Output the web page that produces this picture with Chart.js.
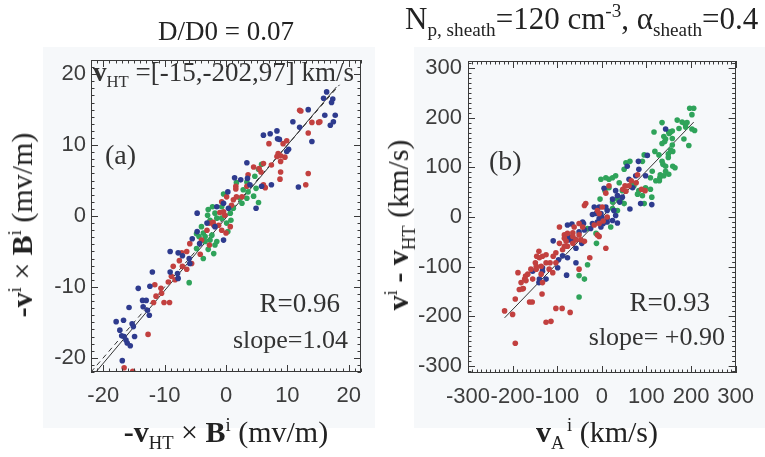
<!DOCTYPE html>
<html><head><meta charset="utf-8">
<script src="https://cdn.jsdelivr.net/npm/chart.js@4.4.1/dist/chart.umd.min.js"></script>
<style>
html,body{margin:0;padding:0;background:#fff;width:765px;height:457px;overflow:hidden;position:relative;}
.bg{position:absolute;background:#f6f8fa;}
canvas{position:absolute;top:0;}
.t{position:absolute;white-space:nowrap;font-family:'Liberation Serif','Times New Roman',serif;color:#333;line-height:1;}
.sub{font-size:62%;position:relative;top:0.38em;}
.sup{font-size:62%;position:relative;top:-0.6em;}
.rot{transform:translate(-50%,-50%) rotate(-90deg);}
</style></head><body>
<div class="bg" style="left:43px;top:47px;width:332px;height:381px"></div>
<div class="bg" style="left:414px;top:47px;width:351px;height:381px"></div>
<canvas id="ca" width="380" height="457" style="left:0px"></canvas>
<canvas id="cb" width="385" height="457" style="left:380px"></canvas>

<div class="t" style="left:226px;top:18px;font-size:27px;transform:translateX(-50%);color:#222">D/D0 = 0.07</div>
<div class="t" style="left:405px;top:3px;font-size:31px;color:#222">N<span class="sub">p, sheath</span>=120 cm<span class="sup">-3</span>, α<span class="sub">sheath</span>=0.4</div>

<div class="t rot" style="left:22px;top:225px;font-size:30px;color:#222"><b>-v</b><span class="sup">i</span> × <b>B</b><span class="sup">i</span> (mv/m)</div>
<div class="t rot" style="left:398px;top:225px;font-size:30px;color:#222"><b>v</b><span class="sup">i</span> <b>-</b> <b>v</b><span class="sub">HT</span> (km/s)</div>
<div class="t" style="left:226px;top:417px;font-size:30px;transform:translateX(-50%);color:#222"><b>-v</b><span class="sub">HT</span> × <b>B</b><span class="sup">i</span> (mv/m)</div>
<div class="t" style="left:597px;top:417px;font-size:30px;transform:translateX(-50%);color:#222"><b>v</b><span class="sub">A</span>&#8202;<span class="sup">i</span> (km/s)</div>

<div class="t" style="left:93px;top:59px;font-size:27px;"><b>v</b><span class="sub">HT</span> =[-15,-202,97] km/s</div>
<div class="t" style="left:105px;top:141px;font-size:28px;">(a)</div>
<div class="t" style="right:425px;top:290px;font-size:27px;">R=0.96</div>
<div class="t" style="right:417px;top:327px;font-size:26px;">slope=1.04</div>
<div class="t" style="left:489px;top:147px;font-size:28px;">(b)</div>
<div class="t" style="right:55px;top:289px;font-size:27px;">R=0.93</div>
<div class="t" style="right:40px;top:324px;font-size:26px;">slope= +0.90</div>

<script>
// ---------- DATA ----------
const panelA_blue = [[16.4,17.5],[15.9,16.6],[17.4,16.5],[17.2,16.0],[13.4,15.0],[17.8,14.2],[16.1,14.2],[17.5,13.3],[17.0,12.8],[10.9,13.3],[6.1,11.4],[7.2,11.6],[8.3,12.0],[8.4,10.9],[8.7,10.8],[10.2,9.4],[9.9,9.1],[12.0,12.5],[14.0,10.5],[11.8,4.1],[7.4,4.4],[5.8,4.2],[3.4,7.5],[1.4,5.4],[2.4,5.1],[3.5,5.3],[3.9,4.4],[4.9,1.1],[0.3,3.4],[-4.7,0.4],[-1.5,1.3],[-0.4,1.8],[0.4,1.1],[-3.1,-1.0],[-1.8,-1.5],[-0.4,-3.4],[-4.7,-2.2],[-5.5,-3.2],[-9.1,-5.0],[-7.8,-5.2],[-7.1,-5.6],[-6.0,-6.0],[-5.9,-6.7],[-4.3,-3.9],[-12.0,-7.9],[-9.1,-7.9],[-7.9,-8.1],[-7.8,-8.8],[-12.4,-9.9],[-14.3,-10.2],[-13.6,-11.9],[-13.0,-11.9],[-13.5,-12.8],[-12.8,-13.3],[-12.5,-14.0],[-15.8,-12.9],[-16.7,-14.7],[-17.9,-14.9],[-17.3,-16.1],[-15.3,-15.2],[-15.1,-15.6],[-16.6,-17.0],[-17.0,-16.9],[-16.3,-17.5],[-16.1,-17.9],[-15.6,-18.3],[-14.9,-17.0],[-16.9,-20.4]];
const panelA_red = [[12.0,14.9],[12.2,14.8],[15.3,13.3],[15.1,13.2],[14.0,13.2],[13.4,11.7],[9.9,10.6],[9.3,10.2],[7.0,10.2],[8.5,8.8],[8.3,8.4],[8.9,8.5],[9.6,8.3],[8.9,7.7],[7.4,7.2],[6.1,7.4],[5.4,6.7],[5.7,6.2],[8.9,6.2],[13.4,6.0],[13.0,4.4],[8.8,5.2],[6.1,4.4],[6.4,4.0],[1.6,4.2],[1.6,3.8],[0.1,2.7],[1.2,2.3],[1.7,2.7],[2.6,2.7],[0.9,1.5],[-0.4,0.6],[-0.2,0.1],[-1.0,0.5],[-2.7,-1.0],[-2.1,-0.9],[-2.0,-1.3],[-1.2,-1.3],[-0.7,-2.0],[0.0,-2.4],[0.7,-1.5],[-2.7,-4.1],[-4.0,-3.4],[-5.9,-3.9],[-6.4,-5.0],[-7.2,-5.2],[-7.6,-6.3],[-7.1,-7.1],[-6.4,-7.5],[-5.6,-6.7],[-8.6,-7.1],[-11.6,-9.7],[-10.6,-10.2],[-10.5,-10.9],[-9.4,-9.3],[-8.9,-8.5],[-8.3,-9.0],[-11.4,-11.3],[-10.1,-12.2],[-9.2,-12.2],[-11.8,-12.2],[-12.7,-16.7],[-16.6,-21.4],[-15.2,-21.9],[3.6,5.8],[4.5,6.9],[-0.7,2.0],[3.4,4.2],[-3.1,-2.0],[-4.2,-5.4]];
const panelA_green = [[5.8,7.3],[5.3,6.6],[4.7,5.6],[3.4,4.8],[1.7,4.7],[2.8,3.7],[3.6,3.4],[4.5,2.8],[3.4,2.5],[2.3,2.5],[-0.4,3.1],[-0.7,1.3],[-2.9,0.9],[-2.2,1.3],[-3.0,0.1],[-2.6,-0.6],[-1.5,-0.3],[-0.7,-0.3],[-1.8,0.4],[0.7,0.4],[-3.7,-2.4],[-4.8,-2.5],[-4.4,-2.9],[-3.4,-2.9],[-2.3,-2.7],[-3.4,-3.6],[-2.9,-4.7],[-2.0,-5.3],[-1.5,-3.6],[-3.7,-6.0],[-1.8,-4.1],[0.3,-2.2],[0.1,-1.0],[0.8,-0.6],[5.3,1.9],[4.9,3.9],[-6.0,-9.4],[-2.6,-3.4],[1.2,1.1],[2.6,1.8],[-4.8,-4.6],[-4.0,-1.5]];
const panelA_fit = [[-21.2,-22.0],[18.0,18.2]];
const panelA_ref = [[-22.0,-22.0],[18.5,18.5]];

const panelB_green = [[197,219],[206,219],[202,206],[186,188],[191,190],[180,191],[188,181],[169,195],[135,190],[154,171],[158,173],[150,171],[151,168],[139,162],[143,157],[141,152],[135,148],[158,158],[158,145],[154,135],[159,132],[149,127],[149,120],[117,171],[119,132],[128,125],[135,112],[137,106],[159,102],[164,99],[143,102],[143,92],[139,83],[130,79],[129,73],[121,73],[131,85],[150,86],[113,92],[109,79],[195,144],[184,157],[173,178],[202,177],[208,174],[95,125],[91,112],[109,56],[98,59],[83,53],[72,63],[69,67],[80,46],[91,43],[112,40],[95,27],[54,109],[63,112],[50,96],[31,83],[24,79],[39,69],[16,76],[9,79],[-2,76],[16,59],[7,53],[-4,36],[35,36],[24,30],[42,33],[50,27],[35,13],[30,12],[24,17],[20,-20],[-32,-23],[-13,-33],[-12,-53],[-32,-96],[-39,-125],[-51,-161],[46,53],[-51,-118]];
const panelB_blue = [[143,177],[82,112],[102,124],[83,96],[57,102],[76,83],[98,83],[61,76],[69,59],[112,25],[87,27],[63,16],[31,53],[35,43],[24,36],[40,30],[46,40],[27,13],[31,3],[12,13],[9,20],[5,58],[-6,20],[-2,7],[-21,5],[-6,-3],[-10,-10],[3,-13],[-2,-20],[12,-3],[12,-10],[24,-7],[35,-12],[-21,-13],[-25,-23],[-43,-10],[-41,-13],[-39,-26],[-51,-30],[-67,-14],[-77,-16],[-75,-39],[-73,-46],[-65,-49],[-60,-45],[-45,-53],[-58,-63],[-77,-82],[-88,-78],[-109,-48],[-133,-102],[-140,-125],[-133,-109],[-155,-109],[-99,-102],[-125,-125],[-79,-117],[-97,-86],[-58,-92],[-141,-132],[-13,7],[-17,20],[0,0]];
const panelB_red = [[80,85],[66,73],[77,69],[97,53],[89,56],[61,63],[52,63],[47,56],[54,52],[16,63],[9,48],[1,20],[-6,7],[-10,13],[12,0],[3,-8],[-6,-13],[-17,-16],[-36,27],[-39,23],[-43,-20],[-51,-13],[-62,-20],[-65,-32],[-65,-39],[-77,-33],[-84,-36],[-51,-36],[-58,-46],[-47,-46],[-39,-49],[-65,-53],[-77,-59],[-84,-59],[-88,-66],[-103,-72],[-109,-79],[-125,-76],[-133,-79],[-140,-82],[-146,-79],[-141,-69],[-149,-92],[-147,-99],[-136,-99],[-125,-92],[-116,-92],[-118,-105],[-110,-112],[-103,-92],[-95,-53],[-80,-49],[-10,-36],[-6,-39],[9,-63],[-27,-82],[-51,-105],[-136,-115],[-147,-105],[-159,-105],[-166,-115],[-171,-119],[-173,-125],[-181,-132],[-170,-128],[-155,-125],[-133,-132],[-188,-112],[-176,-144],[-179,-145],[-185,-146],[-194,-165],[-162,-171],[-156,-171],[-134,-155],[-103,-184],[-89,-184],[-71,-192],[-125,-212],[-114,-210],[-200,-196],[-218,-189],[-194,-254],[-95,-20],[-84,-43]];
const panelB_fit = [[-218,-203],[206,191]];

const axisA = {min:-22, max:22, step:10, minor:1};
const axisBx = {min:-300, max:300, step:100, minor:10};
const axisBy = {min:-314, max:314, step:100, minor:10};

// ---------- STYLE ----------
const BLUE = '#2e3b8e', RED = '#c2403f', GREEN = '#2fa35a';
const TICKFONT = {family:"'Liberation Sans',Arial,sans-serif", size:22};
const TICKCOLOR = '#3d3d3d';

const toPts = a => a.map(p => ({x:p[0], y:p[1]}));

const boxTicks = {
  id:'boxTicks',
  afterDatasetsDraw(chart, args, o){
    const ctx = chart.ctx, ca = chart.chartArea, xs = chart.scales.x, ys = chart.scales.y;
    ctx.save();
    ctx.strokeStyle = '#3a3a3a'; ctx.lineWidth = 1;
    ctx.beginPath();
    const doAxis = (sc, ax, horiz) => {
      const n0 = Math.ceil(ax.min/ax.minor), n1 = Math.floor(ax.max/ax.minor);
      for (let n=n0; n<=n1; n++){
        const v = n*ax.minor;
        const isMaj = Math.abs(v/ax.step - Math.round(v/ax.step)) < 1e-6;
        const len = isMaj ? 7 : 3.5;
        const p = Math.round(sc.getPixelForValue(v)) + 0.5;
        if (horiz){
          ctx.moveTo(p, ca.bottom); ctx.lineTo(p, ca.bottom-len);
          ctx.moveTo(p, ca.top); ctx.lineTo(p, ca.top+len);
        } else {
          ctx.moveTo(ca.left, p); ctx.lineTo(ca.left+len, p);
          ctx.moveTo(ca.right, p); ctx.lineTo(ca.right-len, p);
        }
      }
    };
    doAxis(xs, o.ax, true);
    doAxis(ys, o.ay, false);
    ctx.stroke();
    ctx.strokeRect(Math.round(ca.left)+0.5, Math.round(ca.top)+0.5, Math.round(ca.right-ca.left)-1, Math.round(ca.bottom-ca.top)-1);
    ctx.restore();
  }
};

function scatterSet(data, color){
  return {type:'scatter', data:toPts(data), backgroundColor:color, borderWidth:0, pointRadius:2.8, pointHoverRadius:2.8};
}
function lineSet(data, dash){
  return {type:'line', data:toPts(data), borderColor:'#333', borderWidth:1, pointRadius:0, borderDash:dash||[], fill:false, showLine:true};
}
function scaleOpt(ax, fitProp, fitVal, pad){
  return {
    type:'linear', min:ax.min, max:ax.max,
    grid:{display:false, drawTicks:false}, border:{display:false},
    ticks:{stepSize:ax.step, includeBounds:false, autoSkip:false, maxRotation:0, minRotation:0,
           font:TICKFONT, color:TICKCOLOR, padding:pad, callback:v => String(v)},
    afterFit: s => { s[fitProp] = fitVal; }
  };
}
function makeChart(id, datasets, ax, ay, padding, ypad){
  return new Chart(document.getElementById(id), {
    type:'scatter',
    data:{datasets},
    options:{
      responsive:false, animation:false, devicePixelRatio:1, events:[],
      layout:{padding},
      plugins:{legend:{display:false}, tooltip:{enabled:false}, boxTicks:{ax, ay}},
      scales:{
        x: scaleOpt(ax, 'height', 40, 11),
        y: scaleOpt(ay, 'width', 50, ypad)
      }
    },
    plugins:[boxTicks]
  });
}

makeChart('ca', [
  scatterSet(panelA_blue, BLUE), scatterSet(panelA_red, RED), scatterSet(panelA_green, GREEN),
  lineSet(panelA_ref, [5,4]), lineSet(panelA_fit)
], axisA, axisA, {left:41, right:19, top:60, bottom:45}, 5);

makeChart('cb', [
  scatterSet(panelB_red, RED), scatterSet(panelB_blue, BLUE), scatterSet(panelB_green, GREEN),
  lineSet(panelB_fit)
], axisBx, axisBy, {left:38, right:28, top:61, bottom:44}, 6);
</script>
</body></html>
